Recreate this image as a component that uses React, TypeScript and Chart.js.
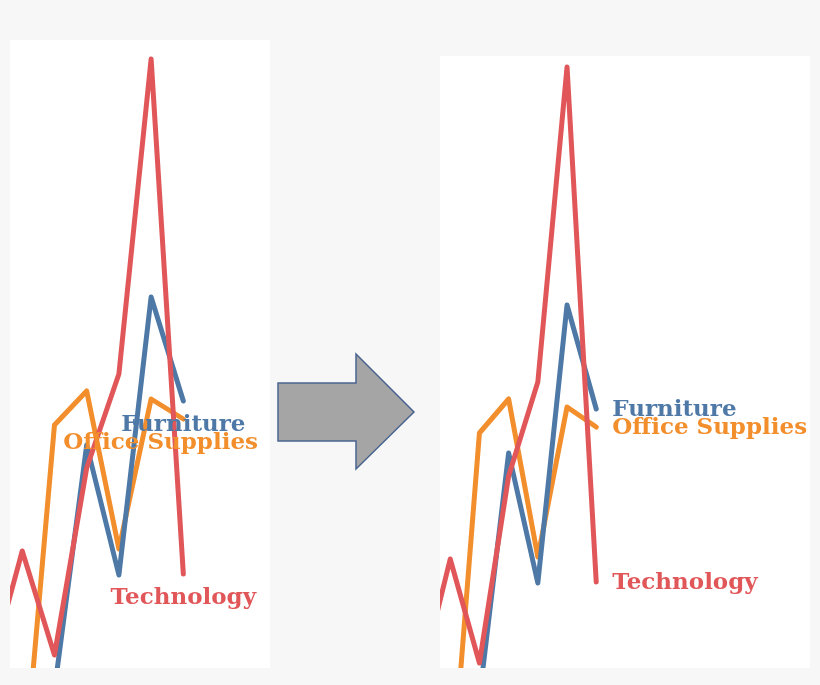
import { useRef, useEffect } from 'react';
import { Chart, registerables } from 'chart.js';

Chart.register(...registerables);

// categories (first one sits just outside the visible panel)
const periods = ['P1', 'P2', 'P3', 'P4', 'P5', 'P6', 'P7'];
const technology = [-10, 109, 5, 192, 286, 601, 86];
const furniture = [null, null, -30, 215, 85, 363, 259];
const officeSupplies = [null, -135, 235, 269, 111, 261, 241];

const seriesNames = ['Technology', 'Furniture', 'Office Supplies'];
const seriesColors = ['#e15759', '#4e79a7', '#f28e2b'];

const labelFont = 'bold 23px "DejaVu Serif", Georgia, serif';

const endLabels = {
  id: 'endLabels',
  afterDatasetsDraw(chart: any) {
    const mode = chart.options.plugins.endLabels.mode;
    const ctx = chart.ctx;
    ctx.save();
    ctx.font = labelFont;
    ctx.textBaseline = 'alphabetic';
    chart.data.datasets.forEach((ds: any, i: number) => {
      const meta = chart.getDatasetMeta(i);
      const pt = meta.data[meta.data.length - 1];
      if (!pt) return;
      ctx.fillStyle = ds.borderColor;
      const w = ctx.measureText(ds.label).width;
      if (mode === 'right') {
        ctx.fillText(ds.label, pt.x + 16, pt.y + 7);
      } else {
        let left = pt.x - w / 2;
        if (left + w > chart.width - 12) left = chart.width - 12 - w;
        ctx.fillText(ds.label, left, pt.y + 30);
      }
    });
    ctx.restore();
  },
};

type PanelProps = {
  xMin: number; xMax: number; yMin: number; yMax: number; mode: string;
  style: React.CSSProperties;
};

const Panel = ({ xMin, xMax, yMin, yMax, mode, style }: PanelProps) => {
  const canvasRef = useRef<HTMLCanvasElement | null>(null);

  useEffect(() => {
    if (!canvasRef.current) return;
    const all = [technology, furniture, officeSupplies];
    const chart = new Chart(canvasRef.current, {
      type: 'line',
      data: {
        labels: periods,
        datasets: all.map((vals, i) => ({
          label: seriesNames[i],
          data: vals.map((v, j) => ({ x: j, y: v })),
          borderColor: seriesColors[i],
          borderWidth: 5,
          borderCapStyle: 'round',
          borderJoinStyle: 'round',
          pointRadius: 0,
          tension: 0,
          fill: false,
          clip: 0,
        })),
      } as any,
      options: {
        animation: false,
        responsive: true,
        maintainAspectRatio: false,
        layout: { padding: 0 },
        scales: {
          x: { type: 'linear', min: xMin, max: xMax, display: false },
          y: { type: 'linear', min: yMin, max: yMax, display: false },
        },
        plugins: {
          legend: { display: false },
          tooltip: { enabled: false },
          endLabels: { mode },
        } as any,
      },
      plugins: [endLabels],
    });
    return () => {
      chart.destroy();
    };
  }, []);

  return (
    <div style={{ position: 'absolute', background: '#ffffff', ...style }}>
      <canvas ref={canvasRef}></canvas>
    </div>
  );
};

const App = () => {
  return (
    <div style={{ position: 'absolute', left: 0, top: 0, width: 820, height: 685, background: '#f7f7f7', overflow: 'hidden' }}>
      <Panel xMin={0.62} xMax={8.69} yMin={-8} yMax={620} mode="center"
        style={{ left: 10, top: 40, width: 260, height: 628 }} />
      <svg width={820} height={685} style={{ position: 'absolute', left: 0, top: 0 }}>
        <polygon points="278,383 356,383 356,354 414,412 356,469 356,441 278,441"
          fill="#a5a5a5" stroke="#4a6490" strokeWidth={1.5} />
      </svg>
      <Panel xMin={0.65} xMax={13.32} yMin={0} yMax={612} mode="right"
        style={{ left: 440, top: 56, width: 370, height: 612 }} />
    </div>
  );
};

export default App;
